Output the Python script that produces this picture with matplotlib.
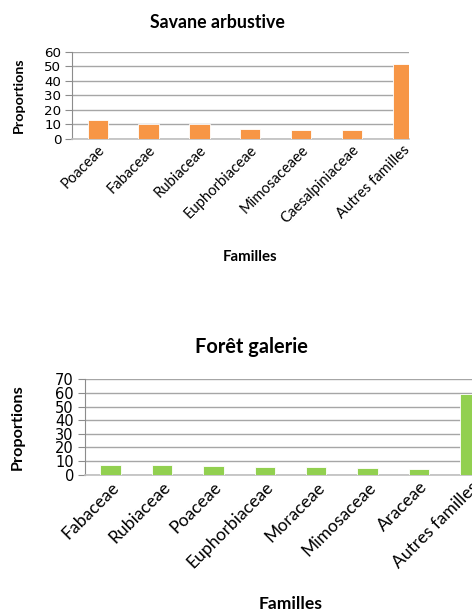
import numpy as np
import matplotlib
matplotlib.use('Agg')
import matplotlib.pyplot as plt

# Savane arbustive
savane_familles = ['Poaceae', 'Fabaceae', 'Rubiaceae', 'Euphorbiaceae', 'Mimosaceaee',
                   'Caesalpiniaceae', 'Autres familles']
savane_prop = [12.8, 10.0, 10.0, 6.7, 6.0, 6.0, 51.7]

# Forêt galerie
foret_familles = ['Fabaceae', 'Rubiaceae', 'Poaceae', 'Euphorbiaceae', 'Moraceae',
                  'Mimosaceae', 'Araceae', 'Autres familles']
foret_prop = [7.1, 7.1, 6.6, 5.4, 5.4, 4.7, 4.2, 58.9]

ORANGE = '#F79646'
GREEN = '#92D050'
GRID = '#A6A6A6'
AXIS = '#8C8C8C'
LABEL_FONT = ['Lato', 'DejaVu Sans']

W, H = 472, 611
fig = plt.figure(figsize=(W / 100, H / 100), dpi=100)


def px_axes(left, right, top, bottom):
    return fig.add_axes([left / W, 1 - bottom / H, (right - left) / W, (bottom - top) / H])


def style(ax, ymax, color, cats, vals, xright, fs_num, fs_cat):
    x = np.arange(len(cats))
    ax.bar(x, vals, width=0.4, color=color, edgecolor='white', linewidth=0.6, zorder=3)
    ax.set_xlim(-0.5, xright)
    ax.set_ylim(0, ymax)
    ax.set_yticks(np.arange(0, ymax + 1, 10))
    ax.yaxis.grid(True, color=GRID, linewidth=1.0, zorder=0)
    for s in ['top', 'right']:
        ax.spines[s].set_visible(False)
    ax.spines['left'].set_color(AXIS)
    ax.spines['bottom'].set_color('#BFBFBF')
    ax.spines['bottom'].set_linewidth(1.2)
    ax.tick_params(axis='y', length=5, color=AXIS, labelsize=fs_num, pad=3)
    ax.tick_params(axis='x', length=0, pad=3)
    ax.set_xticks(x)
    ax.set_xticklabels(cats, rotation=45, ha='right', rotation_mode='anchor',
                       fontsize=fs_cat, family=LABEL_FONT)


# haut
ax1 = px_axes(72.3, 409, 51.7, 138.7)
style(ax1, 60, ORANGE, savane_familles, savane_prop, 6.12, 9.6, 10.6)
ax1.set_ylabel('Proportions', fontsize=10.3, fontweight='bold', family=LABEL_FONT)
ax1.yaxis.set_label_coords((25 - 72.3) / (409 - 72.3), 0.5)
ax1.set_xlabel('Familles', fontsize=10.8, fontweight='bold', family=LABEL_FONT)
ax1.xaxis.set_label_coords((250 - 72.3) / (409 - 72.3), (138.7 - 250) / 87)
fig.text(217 / W, 1 - 22 / H, 'Savane arbustive', ha='center', va='center',
         fontsize=12.8, fontweight='bold', family=LABEL_FONT)

# bas
ax2 = px_axes(85, 496, 379.3, 474.7)
style(ax2, 70, GREEN, foret_familles, foret_prop, 7.5, 10.5, 12.6)
ax2.set_ylabel('Proportions', fontsize=11.7, fontweight='bold', family=LABEL_FONT)
ax2.yaxis.set_label_coords((25 - 85) / (496 - 85), 0.5)
ax2.set_xlabel('Familles', fontsize=12.6, fontweight='bold', family=LABEL_FONT)
ax2.xaxis.set_label_coords(0.5, (474.7 - 596) / 95.4)
fig.text(251 / W, 1 - 347 / H, 'Forêt galerie', ha='center', va='center',
         fontsize=14.4, fontweight='bold', family=LABEL_FONT)

fig.savefig('out.png', dpi=100)
